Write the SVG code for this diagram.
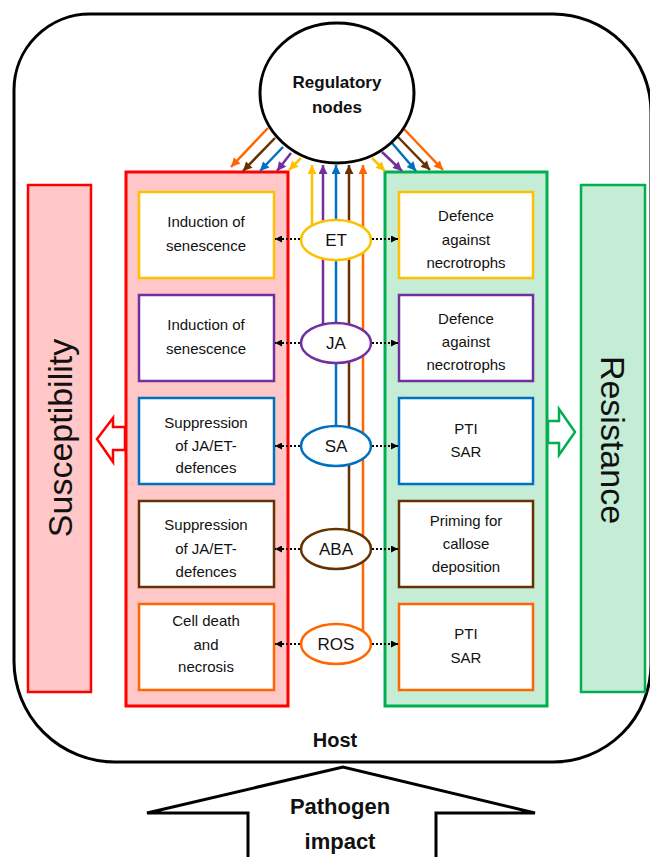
<svg xmlns="http://www.w3.org/2000/svg" width="650" height="857" viewBox="0 0 650 857">
<style>
text{font-family:"Liberation Sans",Arial,sans-serif;fill:#111}
.bt{font-size:15px;text-anchor:middle}
.hl{font-size:17px;text-anchor:middle}
.big{font-size:34px;text-anchor:middle}
.bold{font-weight:bold;text-anchor:middle}
.ib{fill:#fff;stroke-width:2.5}
.ell{fill:#fff;stroke-width:2.5}
.cl{fill:none;stroke-width:2.5}
.dot{fill:none;stroke:#000;stroke-width:2;stroke-dasharray:2 2}
</style>
<defs>
<marker id="mY" viewBox="0 0 10 10" refX="10" refY="5" markerWidth="10" markerHeight="9" markerUnits="userSpaceOnUse" orient="auto"><path d="M0,0L10,5L0,10z" fill="#FFC000"/></marker>
<marker id="mP" viewBox="0 0 10 10" refX="10" refY="5" markerWidth="10" markerHeight="9" markerUnits="userSpaceOnUse" orient="auto"><path d="M0,0L10,5L0,10z" fill="#7030A0"/></marker>
<marker id="mB" viewBox="0 0 10 10" refX="10" refY="5" markerWidth="10" markerHeight="9" markerUnits="userSpaceOnUse" orient="auto"><path d="M0,0L10,5L0,10z" fill="#0070C0"/></marker>
<marker id="mN" viewBox="0 0 10 10" refX="10" refY="5" markerWidth="10" markerHeight="9" markerUnits="userSpaceOnUse" orient="auto"><path d="M0,0L10,5L0,10z" fill="#663300"/></marker>
<marker id="mO" viewBox="0 0 10 10" refX="10" refY="5" markerWidth="10" markerHeight="9" markerUnits="userSpaceOnUse" orient="auto"><path d="M0,0L10,5L0,10z" fill="#FF6600"/></marker>
<marker id="mK" viewBox="0 0 10 10" refX="10" refY="5" markerWidth="8" markerHeight="7" markerUnits="userSpaceOnUse" orient="auto"><path d="M0,0L10,5L0,10z" fill="#000"/></marker>
</defs>

<g id="host">
<path d="M90,14 H553 A98,98 0 0 1 651,112 V664 A98,98 0 0 1 553,762 H115 A101,101 0 0 1 14,661 V90 A76,76 0 0 1 90,14 Z" fill="#fff" stroke="#000" stroke-width="3"/>
<text x="335" y="747" class="bold" font-size="20">Host</text>
</g>

<g id="susceptibility">
<rect x="28" y="185" width="63" height="507" fill="#FFC7C7" stroke="#FF0000" stroke-width="2.5"/>
<text class="big" transform="translate(72,438) rotate(-90)">Susceptibility</text>
</g>
<g id="resistance">
<rect x="581" y="185" width="64" height="507" fill="#C5ECD5" stroke="#00B050" stroke-width="2.5"/>
<text class="big" transform="translate(601,440) rotate(90)">Resistance</text>
</g>

<g id="left-panel">
<rect x="126" y="172" width="162" height="534" fill="#FFC7C7" stroke="#FF0000" stroke-width="3"/>
</g>
<g id="right-panel">
<rect x="385" y="172" width="162" height="534" fill="#C5ECD5" stroke="#00B050" stroke-width="3"/>
</g>

<g id="arrow-left">
<polygon points="125,427 113,427 113,418 97,439 113,462 113,450 125,450" fill="#fff" stroke="#FF0000" stroke-width="2.5"/>
</g>
<g id="arrow-right">
<polygon points="548,421 559,421 559,409 575,432 559,455 559,443 548,443" fill="#fff" stroke="#00B050" stroke-width="2.5"/>
</g>

<g id="L1"><rect class="ib" x="139" y="192" width="135" height="86" stroke="#FFC000"/>
<text class="bt" x="206" y="227">Induction of</text><text class="bt" x="206" y="251">senescence</text></g>
<g id="L2"><rect class="ib" x="139" y="295" width="135" height="86" stroke="#7030A0"/>
<text class="bt" x="206" y="330">Induction of</text><text class="bt" x="206" y="354">senescence</text></g>
<g id="L3"><rect class="ib" x="139" y="398" width="135" height="86" stroke="#0070C0"/>
<text class="bt" x="206" y="428">Suppression</text><text class="bt" x="206" y="451">of JA/ET-</text><text class="bt" x="206" y="473">defences</text></g>
<g id="L4"><rect class="ib" x="139" y="501" width="135" height="86" stroke="#663300"/>
<text class="bt" x="206" y="530">Suppression</text><text class="bt" x="206" y="554">of JA/ET-</text><text class="bt" x="206" y="577">defences</text></g>
<g id="L5"><rect class="ib" x="139" y="604" width="135" height="86" stroke="#FF6600"/>
<text class="bt" x="206" y="626">Cell death</text><text class="bt" x="206" y="650">and</text><text class="bt" x="206" y="672">necrosis</text></g>

<g id="R1"><rect class="ib" x="399" y="192" width="134" height="86" stroke="#FFC000"/>
<text class="bt" x="466" y="221">Defence</text><text class="bt" x="466" y="245">against</text><text class="bt" x="466" y="268">necrotrophs</text></g>
<g id="R2"><rect class="ib" x="399" y="295" width="134" height="86" stroke="#7030A0"/>
<text class="bt" x="466" y="324">Defence</text><text class="bt" x="466" y="347">against</text><text class="bt" x="466" y="370">necrotrophs</text></g>
<g id="R3"><rect class="ib" x="399" y="398" width="134" height="86" stroke="#0070C0"/>
<text class="bt" x="466" y="434">PTI</text><text class="bt" x="466" y="457">SAR</text></g>
<g id="R4"><rect class="ib" x="399" y="501" width="134" height="86" stroke="#663300"/>
<text class="bt" x="466" y="526">Priming for</text><text class="bt" x="466" y="549">callose</text><text class="bt" x="466" y="572">deposition</text></g>
<g id="R5"><rect class="ib" x="399" y="604" width="134" height="86" stroke="#FF6600"/>
<text class="bt" x="466" y="639">PTI</text><text class="bt" x="466" y="663">SAR</text></g>

<g id="connectors">
<line class="cl" stroke="#FFC000" x1="312" y1="228" x2="312" y2="165" marker-end="url(#mY)"/>
<line class="cl" stroke="#7030A0" x1="323" y1="330" x2="323" y2="165" marker-end="url(#mP)"/>
<line class="cl" stroke="#0070C0" x1="336" y1="430" x2="336" y2="165" marker-end="url(#mB)"/>
<line class="cl" stroke="#663300" x1="349" y1="535" x2="349" y2="165" marker-end="url(#mN)"/>
<line class="cl" stroke="#FF6600" x1="363" y1="635" x2="363" y2="165" marker-end="url(#mO)"/>

<line class="cl" stroke="#FF6600" x1="268" y1="128" x2="231" y2="167" marker-end="url(#mO)"/>
<line class="cl" stroke="#663300" x1="275" y1="138" x2="243" y2="171" marker-end="url(#mN)"/>
<line class="cl" stroke="#0070C0" x1="283" y1="147" x2="260" y2="171" marker-end="url(#mB)"/>
<line class="cl" stroke="#7030A0" x1="291" y1="153" x2="277" y2="171" marker-end="url(#mP)"/>
<line class="cl" stroke="#FFC000" x1="301" y1="158" x2="289" y2="170" marker-end="url(#mY)"/>
<line class="cl" stroke="#FFC000" x1="372" y1="158" x2="385" y2="171" marker-end="url(#mY)"/>
<line class="cl" stroke="#7030A0" x1="382" y1="152" x2="402" y2="171" marker-end="url(#mP)"/>
<line class="cl" stroke="#0070C0" x1="392" y1="143" x2="416" y2="171" marker-end="url(#mB)"/>
<line class="cl" stroke="#663300" x1="398" y1="137" x2="430" y2="170" marker-end="url(#mN)"/>
<line class="cl" stroke="#FF6600" x1="404" y1="129" x2="443" y2="170" marker-end="url(#mO)"/>

<line class="dot" x1="300" y1="239" x2="275" y2="239" marker-end="url(#mK)"/>
<line class="dot" x1="372" y1="239" x2="398" y2="239" marker-end="url(#mK)"/>
<line class="dot" x1="300" y1="343" x2="275" y2="343" marker-end="url(#mK)"/>
<line class="dot" x1="372" y1="343" x2="398" y2="343" marker-end="url(#mK)"/>
<line class="dot" x1="300" y1="446" x2="275" y2="446" marker-end="url(#mK)"/>
<line class="dot" x1="372" y1="446" x2="398" y2="446" marker-end="url(#mK)"/>
<line class="dot" x1="300" y1="549" x2="275" y2="549" marker-end="url(#mK)"/>
<line class="dot" x1="372" y1="549" x2="398" y2="549" marker-end="url(#mK)"/>
<line class="dot" x1="300" y1="644" x2="275" y2="644" marker-end="url(#mK)"/>
<line class="dot" x1="372" y1="644" x2="398" y2="644" marker-end="url(#mK)"/>
</g>

<g id="regulatory-nodes">
<ellipse cx="337" cy="93" rx="77" ry="70" fill="#fff" stroke="#000" stroke-width="3"/>
<text x="337" y="88" class="bold" font-size="17">Regulatory</text>
<text x="337" y="113" class="bold" font-size="17">nodes</text>
</g>

<g id="ET"><ellipse class="ell" cx="336" cy="240" rx="35" ry="20" stroke="#FFC000"/><text class="hl" x="336" y="246">ET</text></g>
<g id="JA"><ellipse class="ell" cx="336" cy="343" rx="35" ry="20" stroke="#7030A0"/><text class="hl" x="336" y="349">JA</text></g>
<g id="SA"><ellipse class="ell" cx="336" cy="446" rx="35" ry="20" stroke="#0070C0"/><text class="hl" x="336" y="452">SA</text></g>
<g id="ABA"><ellipse class="ell" cx="336" cy="549" rx="35" ry="20" stroke="#663300"/><text class="hl" x="336" y="555">ABA</text></g>
<g id="ROS"><ellipse class="ell" cx="336" cy="644" rx="35" ry="20" stroke="#FF6600"/><text class="hl" x="336" y="650">ROS</text></g>

<g id="pathogen">
<polyline points="248,860 248,813 147,813 343,767 535,813 436,813 436,860" fill="#fff" stroke="#000" stroke-width="3"/>
<text x="340" y="814" class="bold" font-size="22">Pathogen</text>
<text x="340" y="849" class="bold" font-size="22">impact</text>
</g>
</svg>
